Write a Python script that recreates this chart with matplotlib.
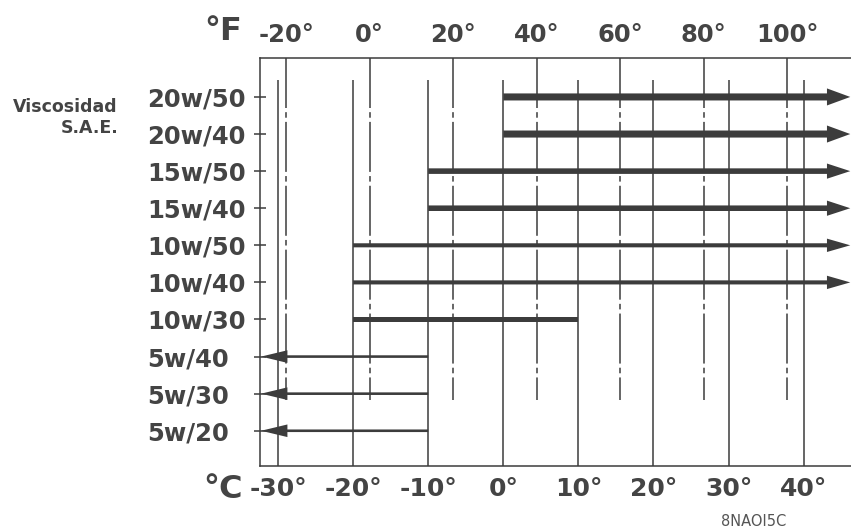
import numpy as np
import matplotlib
matplotlib.use('Agg')
import matplotlib.pyplot as plt

# SAE grades, bottom row first, with the temperature range (degC) each one covers
grades = ['5w/20', '5w/30', '5w/40', '10w/30', '10w/40', '10w/50',
          '15w/40', '15w/50', '20w/40', '20w/50']
t_low = [-np.inf, -np.inf, -np.inf, -20, -20, -20, -10, -10, 0, 0]
t_high = [-10, -10, -10, 10, np.inf, np.inf, np.inf, np.inf, np.inf, np.inf]

c_ticks = [-30, -20, -10, 0, 10, 20, 30, 40]
c_labels = ['-30°', '-20°', '-10°', '0°', '10°', '20°', '30°', '40°']
f_ticks = [-20, 0, 20, 40, 60, 80, 100]
f_labels = ['-20°', '0°', '20°', '40°', '60°', '80°', '100°']

ink = '#3c3c3c'
txt = '#444444'
plt.rcParams['font.family'] = ['DejaVu Sans']
plt.rcParams['lines.scale_dashes'] = False


def c2f(c):
    return c * 9 / 5 + 32


def f2c(f):
    return (f - 32) * 5 / 9


fig = plt.figure(figsize=(8.51, 5.28), dpi=100)
ax = fig.add_axes([260 / 851, 1 - 466 / 528, 591 / 851, 408 / 528])
x_min, x_max = -32.4, 46.3
ax.set_xlim(x_min, x_max)
ax.set_ylim(-0.95, 10.05)

# solid celsius lines and dash-dot fahrenheit lines
ax.vlines(c_ticks, -0.95, 9.45, color=ink, lw=1.1, zorder=1)
for f in f_ticks:
    ln, = ax.plot([f2c(f), f2c(f)], [10.05, 0.83], color=ink, lw=1.1, zorder=1)
    ln.set_dashes([36, 3, 4, 3])

# viscosity ranges
widths = {'5w': (0.07, 0.34, 3.5), '10w': (0.11, 0.36, 3.1),
          '15w': (0.15, 0.41, 3.1), '20w': (0.19, 0.46, 3.1)}
for i, (g, lo, hi) in enumerate(zip(grades, t_low, t_high)):
    w, hw, hl = widths[g.split('/')[0]]
    if np.isinf(lo):
        start, end = hi, x_min + 0.15
    elif np.isinf(hi):
        start, end = lo, x_max - 0.1
    else:
        start, end = lo, hi
        hw, hl = w, 0
    ax.arrow(start, i, end - start, 0, width=w, head_width=hw, head_length=hl,
             length_includes_head=True, color=ink, lw=0, zorder=3)

for s in ['left', 'top', 'bottom']:
    ax.spines[s].set_color(ink)
    ax.spines[s].set_linewidth(1.1)
ax.spines['right'].set_visible(False)

ax.set_yticks(range(len(grades)))
ax.set_yticklabels(grades, fontsize=17.5, fontweight='bold', color=txt, ha='left')
ax.tick_params(axis='y', direction='inout', length=8, width=1.1, color=ink, pad=77.4)

ax.set_xticks(c_ticks)
ax.set_xticklabels(c_labels, fontsize=18, fontweight='bold', color=txt)
ax.tick_params(axis='x', length=0, pad=8)

sec = ax.secondary_xaxis('top', functions=(c2f, f2c))
sec.set_xticks(f_ticks)
sec.set_xticklabels(f_labels, fontsize=17.5, fontweight='bold', color=txt)
sec.tick_params(length=0, pad=8)
sec.spines['top'].set_visible(False)

fig.text(223 / 851, 1 - 31 / 528, '°F', fontsize=23, fontweight='bold', color=txt,
         ha='center', va='center')
fig.text(223 / 851, 1 - 489 / 528, '°C', fontsize=23, fontweight='bold', color=txt,
         ha='center', va='center')
fig.text(118 / 851, 1 - 107 / 528, 'Viscosidad', fontsize=12.5, fontweight='bold',
         color=txt, ha='right', va='center')
fig.text(118 / 851, 1 - 128 / 528, 'S.A.E.', fontsize=12.5, fontweight='bold',
         color=txt, ha='right', va='center')
fig.text(754 / 851, 1 - 521 / 528, '8NAOI5C', fontsize=10.5, color='#555555',
         ha='center', va='center')

fig.savefig('out.png', dpi=100, facecolor='white')
